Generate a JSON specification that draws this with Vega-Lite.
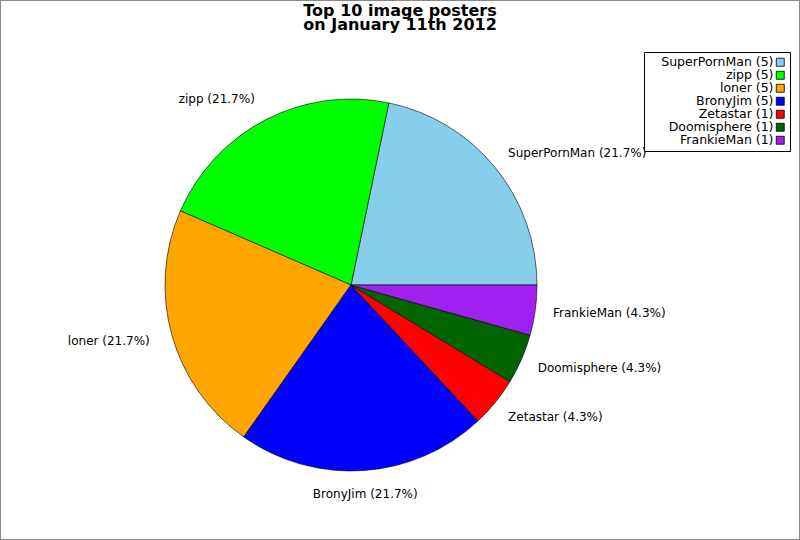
{
  "$schema": "https://vega.github.io/schema/vega-lite/v6.json",
  "autosize": {"type": "none"},
  "width": 800,
  "height": 540,
  "padding": 0,
  "background": "white",
  "view": {"stroke": "#888888", "strokeWidth": 2},
  "title": {
    "text": ["Top 10 image posters", "on January 11th 2012"],
    "font": "DejaVu Sans",
    "fontSize": 16,
    "fontWeight": "bold",
    "lineHeight": 14,
    "anchor": "middle",
    "frame": "group",
    "offset": -33,
    "color": "black"
  },
  "data": {
    "values": [
      {"idx": 1, "name": "SuperPornMan", "posts": 5, "legend": "SuperPornMan (5)", "label": "SuperPornMan (21.7%)"},
      {"idx": 2, "name": "zipp", "posts": 5, "legend": "zipp (5)", "label": "zipp (21.7%)"},
      {"idx": 3, "name": "loner", "posts": 5, "legend": "loner (5)", "label": "loner (21.7%)"},
      {"idx": 4, "name": "BronyJim", "posts": 5, "legend": "BronyJim (5)", "label": "BronyJim (21.7%)"},
      {"idx": 5, "name": "Zetastar", "posts": 1, "legend": "Zetastar (1)", "label": "Zetastar (4.3%)"},
      {"idx": 6, "name": "Doomisphere", "posts": 1, "legend": "Doomisphere (1)", "label": "Doomisphere (4.3%)"},
      {"idx": 7, "name": "FrankieMan", "posts": 1, "legend": "FrankieMan (1)", "label": "FrankieMan (4.3%)"}
    ]
  },
  "encoding": {
    "theta": {"field": "posts", "type": "quantitative", "stack": true,
      "scale": {"range": [1.5707963, -4.712389]}},
    "order": {"field": "idx", "type": "quantitative"}
  },
  "layer": [
    {
      "mark": {"type": "arc", "outerRadius": 186, "stroke": "black", "strokeWidth": 0.6, "xOffset": -49, "yOffset": 15},
      "encoding": {
        "color": {
          "field": "legend", "type": "nominal",
          "scale": {
            "domain": ["SuperPornMan (5)", "zipp (5)", "loner (5)", "BronyJim (5)", "Zetastar (1)", "Doomisphere (1)", "FrankieMan (1)"],
            "range": ["#87CEEB", "#00FF00", "#FFA500", "#0000FF", "#FF0000", "#006400", "#A020F0"]
          },
          "legend": {
            "title": null,
            "orient": "none",
            "legendX": 644,
            "legendY": 52,
            "direction": "vertical",
            "columns": 1,
            "symbolType": "square",
            "symbolSize": 64,
            "symbolStrokeColor": "black",
            "symbolStrokeWidth": 0.8,
            "symbolOffset": 126,
            "labelAlign": "right",
            "labelOffset": -13,
            "labelFont": "DejaVu Sans",
            "labelFontSize": 12.5,
            "labelColor": "black",
            "rowPadding": 0,
            "padding": 4,
            "strokeColor": "black",
            "fillColor": "white",
            "cornerRadius": 0
          }
        }
      }
    },
    {
      "mark": {
        "type": "text", "radius": 209, "xOffset": -49, "yOffset": 15,
        "font": "DejaVu Sans", "fontSize": 12, "color": "black", "baseline": "middle",
        "align": {"expr": "datum.name === 'zipp' || datum.name === 'loner' ? 'right' : (datum.name === 'BronyJim' ? 'center' : 'left')"},
        "dx": {"expr": "datum.name === 'zipp' || datum.name === 'loner' || datum.name === 'BronyJim' ? 0 : -5"}
      },
      "encoding": {
        "text": {"field": "label", "type": "nominal"}
      }
    }
  ],
  "config": {
    "style": {"view": {"stroke": "#888888", "strokeWidth": 2}}
  }
}
